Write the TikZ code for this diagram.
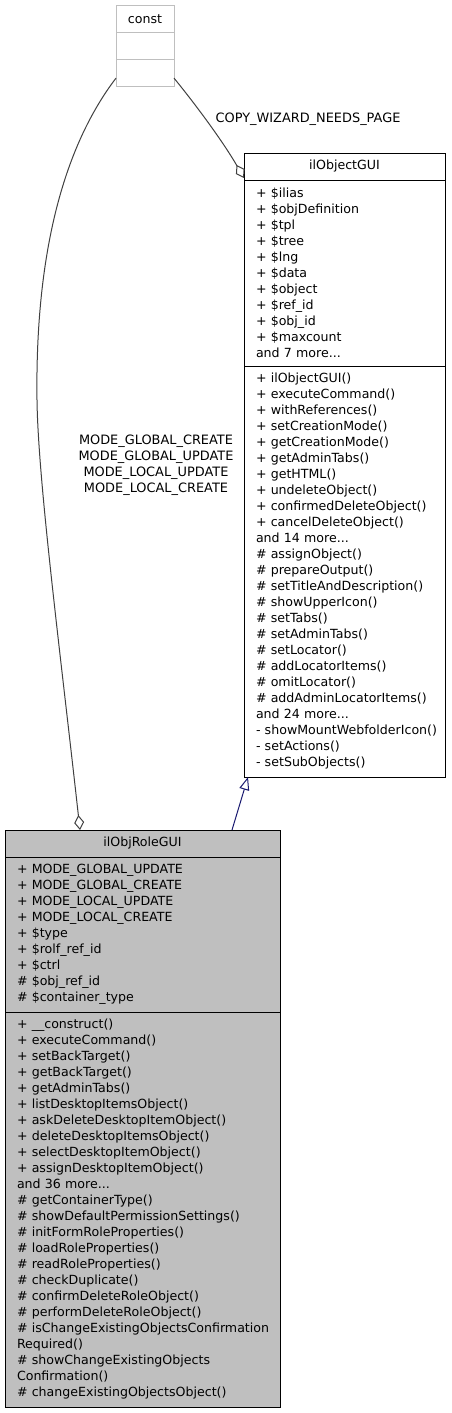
\documentclass[tikz,border=0pt]{standalone}
\usepackage{fontspec}
\setmainfont{DejaVu Sans}
\usetikzlibrary{arrows.meta,positioning}
\hyphenpenalty=10000
\exhyphenpenalty=10000

\definecolor{edgegray}{HTML}{404040}
\definecolor{boxgray}{HTML}{BFBFBF}
\definecolor{inhblue}{HTML}{191970}

\tikzset{
  umlfont/.style={font=\fontsize{12.6}{16}\selectfont},
  umltitle/.style={draw, umlfont, outer sep=0pt, line width=1pt, minimum height=27pt},
  umlpart/.style={draw, umlfont, outer sep=0pt, line width=1pt, inner xsep=12pt, inner ysep=3pt, align=left},
  constbox/.style={draw=boxgray, umlfont, outer sep=0pt, line width=1pt, minimum width=58pt},
  aggr/.style={draw=edgegray, line width=1pt, -{Diamond[open, length=15pt, width=10pt]}},
  inherit/.style={draw=inhblue, line width=1pt, -{Triangle[open, length=13pt, width=10pt]}},
  elabel/.style={font=\fontsize{12.9}{16}\selectfont, align=center, inner sep=0pt}
}

\begin{document}
\begin{tikzpicture}[x=1pt,y=-1pt]
\useasboundingbox (0,0) rectangle (451,1413);

% const
\node[constbox, minimum height=27pt, anchor=north west] (const) at (116,6) {const};
\node[constbox, minimum height=27pt, below=0pt of const] (consta) {};
\node[constbox, minimum height=26pt, below=0pt of consta] (constm) {};

% ilObjectGUI
\node[umltitle, minimum width=201pt, anchor=north west] (objtitle) at (244,153) {ilObjectGUI};
\node[umlpart, text width=177pt, minimum height=186pt, below=0pt of objtitle] (objattr) {%
+~\$ilias\\
+~\$objDefinition\\
+~\$tpl\\
+~\$tree\\
+~\$lng\\
+~\$data\\
+~\$object\\
+~\$ref\_id\\
+~\$obj\_id\\
+~\$maxcount\\
and~7~more...};
\node[umlpart, text width=177pt, minimum height=411pt, below=0pt of objattr] (objmeth) {%
+~ilObjectGUI()\\
+~executeCommand()\\
+~withReferences()\\
+~setCreationMode()\\
+~getCreationMode()\\
+~getAdminTabs()\\
+~getHTML()\\
+~undeleteObject()\\
+~confirmedDeleteObject()\\
+~cancelDeleteObject()\\
and~14~more...\\
\#~assignObject()\\
\#~prepareOutput()\\
\#~setTitleAndDescription()\\
\#~showUpperIcon()\\
\#~setTabs()\\
\#~setAdminTabs()\\
\#~setLocator()\\
\#~addLocatorItems()\\
\#~omitLocator()\\
\#~addAdminLocatorItems()\\
and~24~more...\\
-~showMountWebfolderIcon()\\
-~setActions()\\
-~setSubObjects()};

% ilObjRoleGUI
\node[umltitle, fill=boxgray, minimum width=275pt, anchor=north west] (roletitle) at (5,830) {ilObjRoleGUI};
\node[umlpart, fill=boxgray, text width=251pt, minimum height=155pt, below=0pt of roletitle] (roleattr) {%
+~MODE\_GLOBAL\_UPDATE\\
+~MODE\_GLOBAL\_CREATE\\
+~MODE\_LOCAL\_UPDATE\\
+~MODE\_LOCAL\_CREATE\\
+~\$type\\
+~\$rolf\_ref\_id\\
+~\$ctrl\\
\#~\$obj\_ref\_id\\
\#~\$container\_type};
\node[umlpart, fill=boxgray, text width=251pt, minimum height=395pt, below=0pt of roleattr] (rolemeth) {%
+~\_\_construct()\\
+~executeCommand()\\
+~setBackTarget()\\
+~getBackTarget()\\
+~getAdminTabs()\\
+~listDesktopItemsObject()\\
+~askDeleteDesktopItemObject()\\
+~deleteDesktopItemsObject()\\
+~selectDesktopItemObject()\\
+~assignDesktopItemObject()\\
and~36~more...\\
\#~getContainerType()\\
\#~showDefaultPermissionSettings()\\
\#~initFormRoleProperties()\\
\#~loadRoleProperties()\\
\#~readRoleProperties()\\
\#~checkDuplicate()\\
\#~confirmDeleteRoleObject()\\
\#~performDeleteRoleObject()\\
\#~isChangeExistingObjectsConfirmation\\
Required()\\
\#~showChangeExistingObjects\\
Confirmation()\\
\#~changeExistingObjectsObject()};

% edges
\path[aggr] (constm.350) .. controls (200,110) and (225,145) .. (objtitle.west |- 0,178);
\path[aggr] (constm.190) .. controls (65,145) and (35,250) .. (37,400)
                         .. controls (38,480) and (60,650) .. (80,0 |- roletitle.north);
\path[inherit] (232,0 |- roletitle.north) -- (248,0 |- objmeth.south);

\node[elabel] (copylbl) at (308,119) {COPY\_WIZARD\_NEEDS\_PAGE};
\node[elabel] (modelbl) at (156,465) {MODE\_GLOBAL\_CREATE\\MODE\_GLOBAL\_UPDATE\\MODE\_LOCAL\_UPDATE\\MODE\_LOCAL\_CREATE};
\end{tikzpicture}
\end{document}
